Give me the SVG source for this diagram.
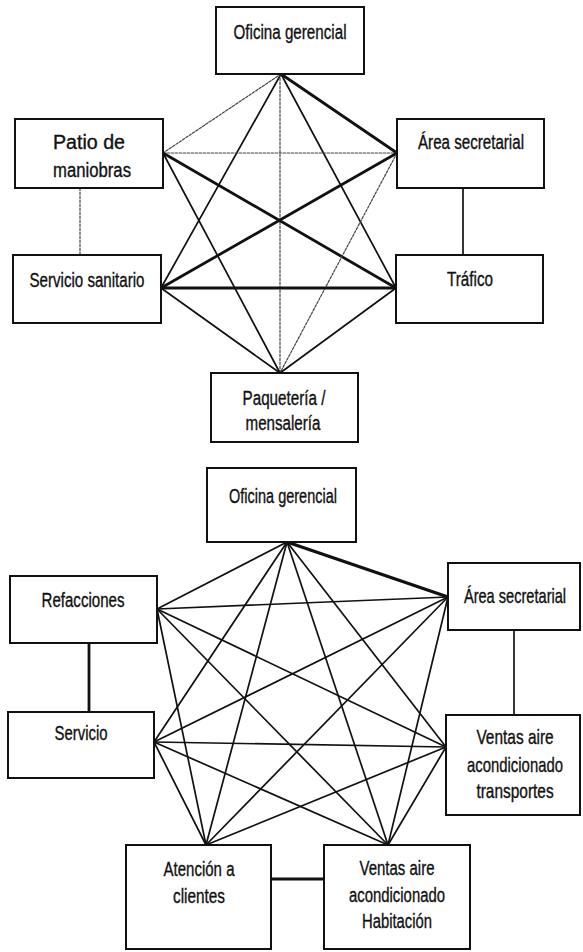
<svg xmlns="http://www.w3.org/2000/svg" width="583" height="952" viewBox="0 0 583 952">
  <style>
    .box { fill: #ffffff; stroke: #111111; stroke-width: 2; }
    .lbl { font-family: "Liberation Sans", Arial, sans-serif; font-size: 20px; fill: #111111; stroke: #111111; stroke-width: 0.35; text-anchor: middle; }
    .edge { stroke: #111111; stroke-width: 1.7; fill: none; stroke-linecap: round; }
    .heavy { stroke-width: 2.8; }
    .faint { stroke: #444444; stroke-width: 1.2; stroke-dasharray: 2.5 1.5; }
  </style>
  <rect width="583" height="952" fill="#ffffff"/>

  <!-- Upper layout: connectors -->
  <g id="connectors-top">
    <line class="edge faint" x1="281" y1="74" x2="163" y2="153"/>
    <line class="edge heavy" x1="281" y1="74" x2="397" y2="153"/>
    <line class="edge" x1="281" y1="74" x2="161" y2="288"/>
    <line class="edge" x1="281" y1="74" x2="396" y2="288"/>
    <line class="edge faint" x1="280" y1="74" x2="280" y2="373"/>
    <line class="edge faint" x1="163" y1="153" x2="397" y2="153"/>
    <line class="edge heavy" x1="163" y1="153" x2="396" y2="288"/>
    <line class="edge" x1="163" y1="153" x2="280" y2="373"/>
    <line class="edge heavy" x1="397" y1="153" x2="161" y2="288"/>
    <line class="edge faint" x1="397" y1="153" x2="280" y2="373"/>
    <line class="edge heavy" x1="161" y1="288" x2="396" y2="288"/>
    <line class="edge" x1="161" y1="288" x2="280" y2="373"/>
    <line class="edge" x1="396" y1="288" x2="280" y2="373"/>
    <line class="edge faint" x1="80" y1="188" x2="80" y2="255"/>
    <line class="edge" x1="463" y1="188" x2="463" y2="255"/>
  </g>

  <!-- Upper layout: nodes -->
  <g id="top-oficina">
    <rect class="box" x="216" y="7" width="148" height="67"/>
    <text class="lbl" x="290" y="39" textLength="113" lengthAdjust="spacingAndGlyphs">Oficina gerencial</text>
  </g>
  <g id="top-patio">
    <rect class="box" x="15" y="119" width="148" height="69"/>
    <text class="lbl" x="89" y="149" textLength="72" lengthAdjust="spacingAndGlyphs">Patio de</text>
    <text class="lbl" x="92" y="177" textLength="78" lengthAdjust="spacingAndGlyphs">maniobras</text>
  </g>
  <g id="top-area">
    <rect class="box" x="397" y="119" width="147" height="69"/>
    <text class="lbl" x="471" y="149" textLength="106" lengthAdjust="spacingAndGlyphs">Área secretarial</text>
  </g>
  <g id="top-sanitario">
    <rect class="box" x="13" y="255" width="148" height="68"/>
    <text class="lbl" x="87" y="287" textLength="115" lengthAdjust="spacingAndGlyphs">Servicio sanitario</text>
  </g>
  <g id="top-trafico">
    <rect class="box" x="396" y="255" width="147" height="68"/>
    <text class="lbl" x="470" y="286" textLength="46" lengthAdjust="spacingAndGlyphs">Tráfico</text>
  </g>
  <g id="top-paqueteria">
    <rect class="box" x="211" y="373" width="147" height="69"/>
    <text class="lbl" x="284" y="405" textLength="83" lengthAdjust="spacingAndGlyphs">Paquetería /</text>
    <text class="lbl" x="283" y="430" textLength="75" lengthAdjust="spacingAndGlyphs">mensalería</text>
  </g>

  <!-- Lower layout: connectors -->
  <g id="connectors-bottom">
    <line class="edge" x1="287" y1="542" x2="157" y2="609"/>
    <line class="edge heavy" x1="287" y1="542" x2="448" y2="597" style="stroke-width:3.4"/>
    <line class="edge" x1="287" y1="542" x2="154" y2="742"/>
    <line class="edge" x1="287" y1="542" x2="446" y2="747"/>
    <line class="edge" x1="287" y1="542" x2="206" y2="845"/>
    <line class="edge" x1="287" y1="542" x2="388" y2="845"/>
    <line class="edge" x1="157" y1="609" x2="448" y2="597"/>
    <line class="edge" x1="157" y1="609" x2="446" y2="747"/>
    <line class="edge" x1="157" y1="609" x2="206" y2="845"/>
    <line class="edge" x1="157" y1="609" x2="388" y2="845"/>
    <line class="edge" x1="448" y1="597" x2="154" y2="742"/>
    <line class="edge" x1="448" y1="597" x2="206" y2="845"/>
    <line class="edge" x1="448" y1="597" x2="388" y2="845"/>
    <line class="edge" x1="154" y1="742" x2="446" y2="747"/>
    <line class="edge" x1="154" y1="742" x2="206" y2="845"/>
    <line class="edge" x1="154" y1="742" x2="388" y2="845"/>
    <line class="edge" x1="446" y1="747" x2="206" y2="845"/>
    <line class="edge" x1="446" y1="747" x2="388" y2="845"/>
    <line class="edge heavy" x1="89" y1="643" x2="89" y2="712"/>
    <line class="edge" x1="514" y1="630" x2="514" y2="715"/>
    <line class="edge heavy" x1="271" y1="879" x2="324" y2="879"/>
  </g>

  <!-- Lower layout: nodes -->
  <g id="bottom-oficina">
    <rect class="box" x="207" y="468" width="149" height="74"/>
    <text class="lbl" x="283" y="503" textLength="108" lengthAdjust="spacingAndGlyphs">Oficina gerencial</text>
  </g>
  <g id="bottom-refacciones">
    <rect class="box" x="10" y="576" width="147" height="67"/>
    <text class="lbl" x="83" y="607" textLength="83" lengthAdjust="spacingAndGlyphs">Refacciones</text>
  </g>
  <g id="bottom-area">
    <rect class="box" x="448" y="563" width="132" height="67"/>
    <!-- narrow box near the right margin: labels condensed by a horizontal scale -->
    <g transform="translate(515,0) scale(0.78,1)">
      <text class="lbl" x="0" y="603" textLength="131" lengthAdjust="spacingAndGlyphs">Área secretarial</text>
    </g>
  </g>
  <g id="bottom-servicio">
    <rect class="box" x="8" y="712" width="146" height="66"/>
    <text class="lbl" x="81" y="740" textLength="53" lengthAdjust="spacingAndGlyphs">Servicio</text>
  </g>
  <g id="bottom-ventas-transportes">
    <rect class="box" x="446" y="715" width="134" height="100"/>
    <g transform="translate(515,0) scale(0.78,1)">
      <text class="lbl" x="0" y="744" textLength="99" lengthAdjust="spacingAndGlyphs">Ventas aire</text>
      <text class="lbl" x="0" y="772" textLength="123" lengthAdjust="spacingAndGlyphs">acondicionado</text>
      <text class="lbl" x="0" y="798" textLength="99" lengthAdjust="spacingAndGlyphs">transportes</text>
    </g>
  </g>
  <g id="bottom-atencion">
    <rect class="box" x="126" y="845" width="145" height="104"/>
    <text class="lbl" x="199" y="876" textLength="71" lengthAdjust="spacingAndGlyphs">Atención a</text>
    <text class="lbl" x="199" y="903" textLength="52" lengthAdjust="spacingAndGlyphs">clientes</text>
  </g>
  <g id="bottom-ventas-habitacion">
    <rect class="box" x="324" y="845" width="146" height="104"/>
    <text class="lbl" x="397" y="875" textLength="75" lengthAdjust="spacingAndGlyphs">Ventas aire</text>
    <text class="lbl" x="397" y="902" textLength="96" lengthAdjust="spacingAndGlyphs">acondicionado</text>
    <text class="lbl" x="397" y="928" textLength="70" lengthAdjust="spacingAndGlyphs">Habitación</text>
  </g>
</svg>
